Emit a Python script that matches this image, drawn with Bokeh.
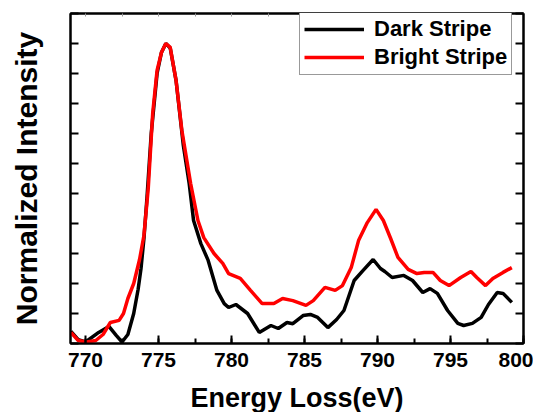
from bokeh.plotting import figure
from bokeh.models import (LinearAxis, SingleIntervalTicker, Range1d, Legend, LegendItem,
                          CustomJSTickFormatter)
from bokeh.embed import file_html
from bokeh.resources import INLINE

# ---- data ----
dark_x = [769.0, 769.5, 770.0, 770.9, 771.6, 772.1, 772.5, 772.9, 773.3, 773.6,
          773.8, 774.0, 774.2, 774.5, 774.9, 775.2, 775.5, 775.8, 776.2, 776.7,
          777.1, 777.4, 777.9, 778.4, 779.0, 779.5, 779.8, 780.3, 781.1, 781.9,
          782.7, 783.2, 783.8, 784.2, 784.9, 785.4, 785.9, 786.6, 787.2, 787.7,
          788.4, 789.0, 789.7, 790.2, 790.5, 791.0, 791.8, 792.4, 793.1, 793.6,
          794.1, 794.8, 795.5, 795.9, 796.5, 797.1, 797.6, 798.2, 798.6, 799.2]
dark_y = [0.04, 0.013, 0.005, 0.037, 0.057, 0.027, 0.005, 0.03, 0.10, 0.18,
          0.25, 0.35, 0.48, 0.70, 0.90, 0.97, 1.0, 0.985, 0.877, 0.66,
          0.533, 0.41, 0.333, 0.277, 0.177, 0.133, 0.12, 0.13, 0.10, 0.037,
          0.06, 0.05, 0.07, 0.066, 0.093, 0.097, 0.087, 0.053, 0.08, 0.11,
          0.21, 0.243, 0.28, 0.25, 0.24, 0.22, 0.227, 0.21, 0.17, 0.183,
          0.167, 0.11, 0.067, 0.06, 0.067, 0.087, 0.13, 0.17, 0.167, 0.137]

bright_x = [769.0, 769.5, 770.1, 770.7, 771.2, 771.7, 772.3, 772.6, 772.9, 773.3,
            773.7, 774.0, 774.3, 774.6, 774.9, 775.2, 775.5, 775.8, 776.2, 776.6,
            777.2, 777.7, 778.1, 778.8, 779.4, 779.8, 780.6, 781.3, 782.1, 782.9,
            783.5, 784.2, 785.1, 785.6, 786.4, 787.1, 787.6, 788.2, 788.7, 789.3,
            789.9, 790.4, 790.9, 791.4, 792.1, 792.7, 793.2, 793.8, 794.3, 794.9,
            795.7, 796.4, 796.8, 797.4, 797.9, 798.6, 799.2]
bright_y = [0.037, 0.01, 0.005, 0.01, 0.03, 0.07, 0.077, 0.10, 0.15, 0.20,
            0.28, 0.36, 0.52, 0.767, 0.91, 0.97, 1.0, 0.987, 0.877, 0.71,
            0.533, 0.41, 0.353, 0.30, 0.267, 0.233, 0.217, 0.177, 0.133, 0.133,
            0.15, 0.143, 0.127, 0.143, 0.187, 0.177, 0.193, 0.253, 0.343, 0.403,
            0.447, 0.41, 0.35, 0.287, 0.247, 0.233, 0.237, 0.237, 0.21, 0.193,
            0.22, 0.24, 0.22, 0.193, 0.217, 0.237, 0.253]

series_names = ["Dark Stripe", "Bright Stripe"]
x_label = "Energy Loss(eV)"
y_label = "Normalized Intensity"

FONT = "Liberation Sans"

p = figure(frame_width=453, frame_height=330, output_backend="svg",
           toolbar_location=None, x_range=Range1d(768.97, 800),
           y_range=Range1d(0, 1.1), x_axis_location=None, y_axis_location=None,
           min_border_left=70, min_border_right=10, min_border_top=13,
           min_border_bottom=60)
p.grid.visible = False
p.outline_line_color = "black"
p.outline_line_width = 2
p.background_fill_color = "white"
p.border_fill_color = "white"

xt = SingleIntervalTicker(interval=5, num_minor_ticks=2)
yt = SingleIntervalTicker(interval=0.1, num_minor_ticks=0)
blank = CustomJSTickFormatter(code="return ''")

# bottom axis
xb = LinearAxis(ticker=xt, axis_label=x_label)
xb.axis_line_width = 2
xb.major_tick_in = 8
xb.major_tick_out = 0
xb.minor_tick_in = 5
xb.minor_tick_out = 0
xb.major_tick_line_width = 2
xb.minor_tick_line_width = 2
xb.major_label_text_font = FONT
xb.major_label_text_font_style = "bold"
xb.major_label_text_font_size = "21px"
xb.major_label_text_color = "black"
xb.major_label_standoff = 9
xb.axis_label_text_font = FONT
xb.axis_label_text_font_style = "bold"
xb.axis_label_text_font_size = "27px"
xb.axis_label_text_color = "black"
xb.axis_label_standoff = 13
p.add_layout(xb, "below")

# top axis
xtop = LinearAxis(ticker=SingleIntervalTicker(interval=2.5, num_minor_ticks=0),
                  formatter=blank)
xtop.axis_line_width = 2
xtop.major_tick_in = 3
xtop.major_tick_out = 0
xtop.major_tick_line_color = "#999999"
xtop.major_tick_line_width = 1
xtop.minor_tick_line_color = None
xtop.major_label_standoff = 0
xtop.major_label_text_font_size = "1px"
p.add_layout(xtop, "above")

# left axis
yl = LinearAxis(ticker=yt, axis_label=y_label, formatter=blank)
yl.axis_line_width = 2
yl.major_tick_in = 8
yl.major_tick_out = 0
yl.major_tick_line_width = 2
yl.minor_tick_line_color = None
yl.major_label_standoff = 0
yl.major_label_text_font_size = "1px"
yl.axis_label_text_font = FONT
yl.axis_label_text_font_style = "bold"
yl.axis_label_text_font_size = "30px"
yl.axis_label_text_color = "black"
yl.axis_label_standoff = 28
p.add_layout(yl, "left")

# right axis
yr = LinearAxis(ticker=yt, formatter=blank)
yr.axis_line_width = 2
yr.major_tick_in = 8
yr.major_tick_out = 0
yr.major_tick_line_width = 2
yr.minor_tick_line_color = None
yr.major_label_standoff = 0
yr.major_label_text_font_size = "1px"
p.add_layout(yr, "right")

r_dark = p.line(dark_x, dark_y, line_color="black", line_width=3.5)
r_bright = p.line(bright_x, bright_y, line_color="#ff0000", line_width=3.5)

legend = Legend(items=[LegendItem(label=series_names[0], renderers=[r_dark]),
                       LegendItem(label=series_names[1], renderers=[r_bright])],
                location=(229, 268))
legend.padding = 4
legend.spacing = 2
legend.margin = 0
legend.glyph_width = 60
legend.glyph_height = 22
legend.label_height = 22
legend.label_standoff = 10
legend.label_text_font = FONT
legend.label_text_font_style = "bold"
legend.label_text_font_size = "22px"
legend.label_text_color = "black"
legend.border_line_color = "#333333"
legend.border_line_width = 1
legend.background_fill_alpha = 1.0
p.add_layout(legend, "center")

open("out.html", "w").write(file_html(p, INLINE))
